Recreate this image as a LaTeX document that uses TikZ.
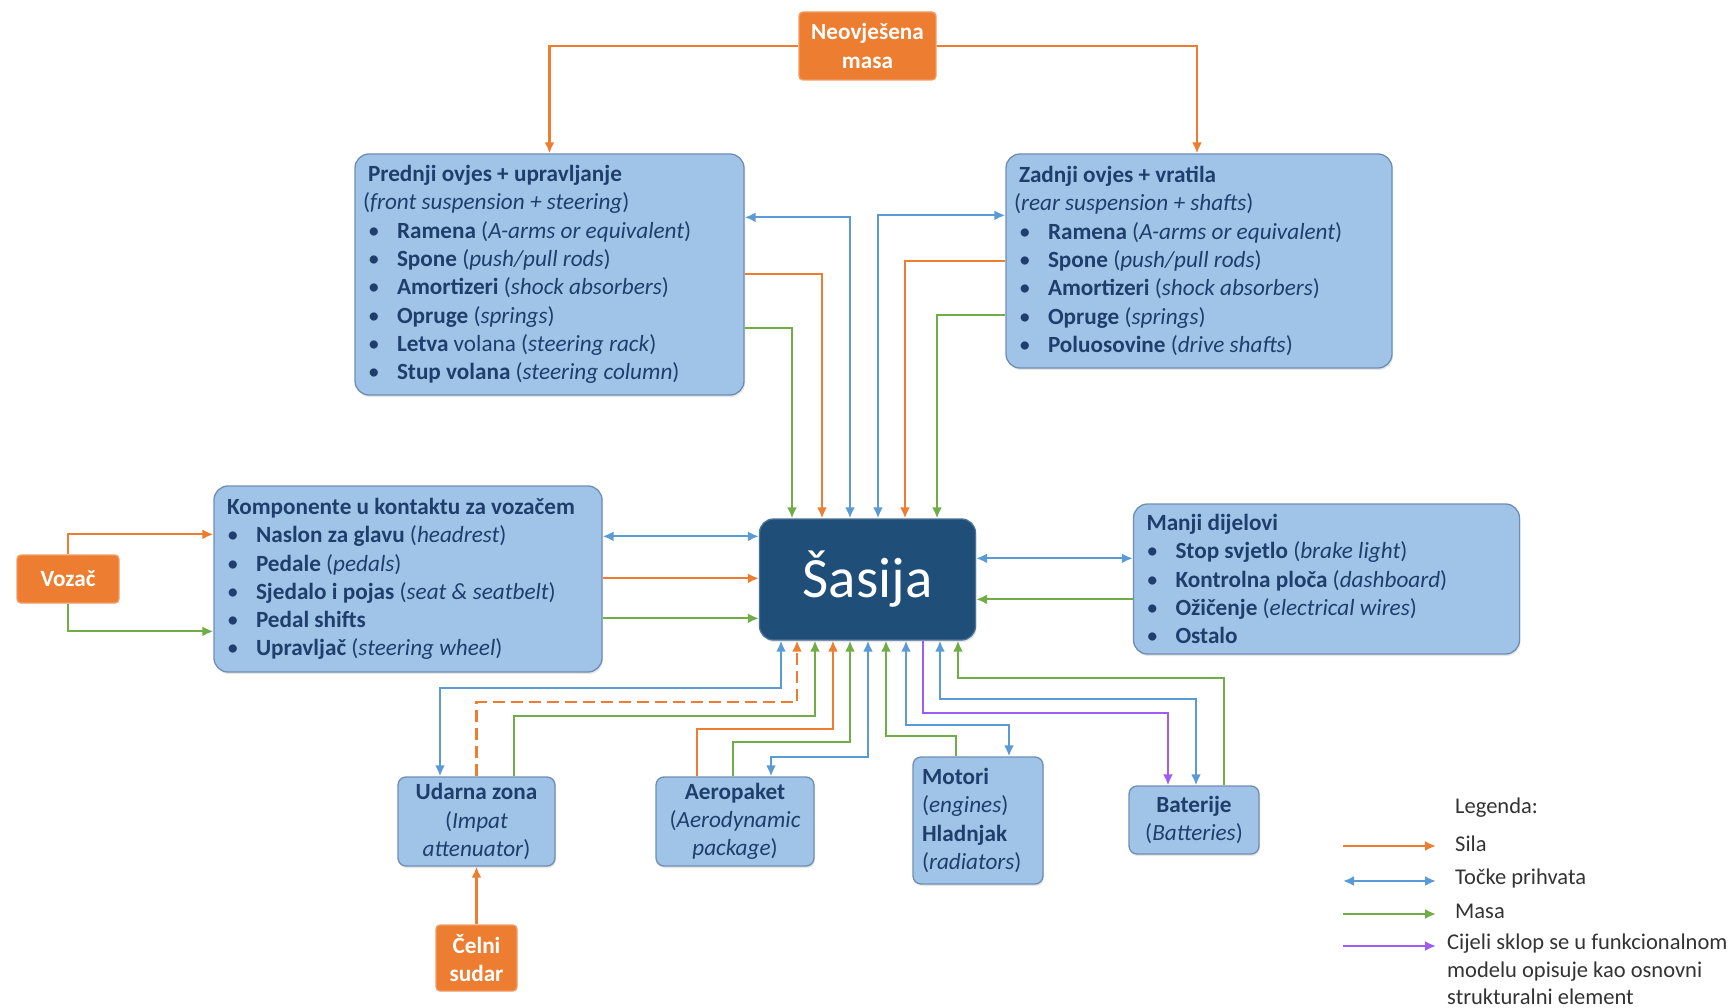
\documentclass[tikz,border=0pt]{standalone}
\usepackage{fontspec}
\setmainfont{Carlito}
\usepackage{tikz}
\usetikzlibrary{positioning}
\usetikzlibrary{arrows.meta}
\usetikzlibrary{shadows}
\definecolor{kutija}{HTML}{A0C4E8}
\definecolor{rub}{HTML}{6F8DB3}
\definecolor{tekst}{HTML}{1F3E6C}
\definecolor{narancasta}{HTML}{ED7D31}
\definecolor{tamna}{HTML}{1F4E79}
\definecolor{silaboja}{HTML}{ED7D31}
\definecolor{tockaboja}{HTML}{5B9BD5}
\definecolor{masaboja}{HTML}{70AD47}
\definecolor{sklopboja}{HTML}{9E5CF2}
\definecolor{legtekst}{HTML}{333333}
\newcommand{\okvirfont}{\fontsize{23.2pt}{28.3pt}\selectfont}
\newcommand{\stavka}[1]{\makebox[29pt][l]{\textbullet}#1}
\tikzset{okvir/.style={rounded corners=14pt,fill=kutija,draw=rub,line width=1.3pt,text=tekst,font=\okvirfont,align=flush left,inner xsep=13pt,inner ysep=0pt,drop shadow={opacity=0.2,shadow xshift=1pt,shadow yshift=-2pt}},
malaokvir/.style={okvir,rounded corners=8pt,align=center,inner xsep=0pt},
naranca/.style={rounded corners=4pt,fill=narancasta,draw=narancasta!75!white,line width=1.3pt,text=white,font=\okvirfont\bfseries,align=center,inner sep=0pt},
legenda/.style={font=\fontsize{22.5pt}{27.5pt}\selectfont,text=legtekst,inner sep=0pt},
sila/.style={draw=silaboja,line width=2.2pt,-{Latex[length=11pt,width=10pt]}},
tocka/.style={draw=tockaboja,line width=2.2pt,{Latex[length=11pt,width=10pt]}-{Latex[length=11pt,width=10pt]}},
masa/.style={draw=masaboja,line width=2.2pt,-{Latex[length=11pt,width=10pt]}},
sklop/.style={draw=sklopboja,line width=2.2pt,-{Latex[length=11pt,width=10pt]}}}
\begin{document}
\begin{tikzpicture}[x=1pt,y=-1pt]
\useasboundingbox (0,0) rectangle (1733,1008);

\node (sasija) at (867.5,579.5) [rounded corners=14pt,fill=tamna,draw=tamna!80!white,line width=1.3pt,text=white,font=\fontsize{57pt}{60pt}\selectfont,minimum width=216pt,minimum height=121pt,inner sep=0pt,drop shadow={opacity=0.2,shadow xshift=1pt,shadow yshift=-2pt}] {Šasija};
\node (neo) at (867.5,46) [naranca,minimum width=137pt,minimum height=68pt] {Neovješena\\masa};
\node (front) at (549.5,274.5) [okvir,text width=363pt,minimum height=241pt] {\textbf{Prednji ovjes + upravljanje}\\\hspace*{-5pt}(\textit{front suspension + steering})\\\stavka{\textbf{Ramena} (\textit{A-arms or equivalent})}\\\stavka{\textbf{Spone} (\textit{push/pull rods})}\\\stavka{\textbf{Amortizeri} (\textit{shock absorbers})}\\\stavka{\textbf{Opruge} (\textit{springs})}\\\stavka{\textbf{Letva} volana (\textit{steering rack})}\\\stavka{\textbf{Stup volana} (\textit{steering column})}};
\node (rear) at (1199,261) [okvir,text width=360pt,minimum height=214pt] {\textbf{Zadnji ovjes + vratila}\\\hspace*{-5pt}(\textit{rear suspension + shafts})\\\stavka{\textbf{Ramena} (\textit{A-arms or equivalent})}\\\stavka{\textbf{Spone} (\textit{push/pull rods})}\\\stavka{\textbf{Amortizeri} (\textit{shock absorbers})}\\\stavka{\textbf{Opruge} (\textit{springs})}\\\stavka{\textbf{Poluosovine} (\textit{drive shafts})}};
\node (komp) at (408,579) [okvir,text width=362pt,minimum height=186pt] {\textbf{Komponente u kontaktu za vozačem}\\\stavka{\textbf{Naslon za glavu} (\textit{headrest})}\\\stavka{\textbf{Pedale} (\textit{pedals})}\\\stavka{\textbf{Sjedalo i pojas} (\textit{seat \& seatbelt})}\\\stavka{\textbf{Pedal shifts}}\\\stavka{\textbf{Upravljač} (\textit{steering wheel})}};
\node (manji) at (1326.5,579) [okvir,text width=360pt,minimum height=150pt] {\textbf{Manji dijelovi}\\\stavka{\textbf{Stop svjetlo} (\textit{brake light})}\\\stavka{\textbf{Kontrolna ploča} (\textit{dashboard})}\\\stavka{\textbf{Ožičenje} (\textit{electrical wires})}\\\stavka{\textbf{Ostalo}}};
\node (vozac) [left of=komp,node distance=340pt,naranca,minimum width=102pt,minimum height=48pt] {Vozač};
\node (udarna) at (476.5,821.5) [malaokvir,minimum width=157pt,minimum height=89pt] {\textbf{Udarna zona}\\(\textit{Impat}\\\textit{attenuator})};
\node (celni) [below of=udarna,node distance=136.5pt,naranca,minimum width=81pt,minimum height=66pt] {Čelni\\sudar};
\node (aero) at (735,821.5) [malaokvir,minimum width=158pt,minimum height=89pt] {\textbf{Aeropaket}\\(\textit{Aerodynamic}\\\textit{package})};
\node (motori) at (978,820.5) [okvir,rounded corners=8pt,inner xsep=9pt,text width=112pt,minimum height=127pt] {\textbf{Motori}\\(\textit{engines})\\\textbf{Hladnjak}\\(\textit{radiators})};
\node (baterije) at (1194,820) [malaokvir,minimum width=130pt,minimum height=68pt] {\textbf{Baterije}\\(\textit{Batteries})};

\node (legenda) at (1455,808) [anchor=west,legenda] {Legenda:};
\node (lsila) at (1455,844) [anchor=west,legenda] {Sila};
\node (ltocka) at (1455,878) [anchor=west,legenda] {Točke prihvata};
\node (lmasa) at (1455,911) [anchor=west,legenda] {Masa};
\node (lsklop) at (1447,934) [anchor=north west,legenda,align=left] {Cijeli sklop se u funkcionalnom\\modelu opisuje kao osnovni\\strukturalni element};

\coordinate (k1) at ([yshift=-51pt]komp.north east);
\coordinate (k2) at ([yshift=-93pt]komp.north east);
\coordinate (k3) at ([yshift=-133pt]komp.north east);
\coordinate (m1) at ([yshift=-55pt]manji.north west);
\coordinate (m2) at ([yshift=-96pt]manji.north west);
\coordinate (v1) at ([yshift=-49pt]komp.north west);
\coordinate (v2) at ([yshift=-146pt]komp.north west);

\draw[sila] (neo.west) -| (front.north);
\draw[sila] (neo.east) -| ([xshift=-2pt]rear.north);
\draw[tocka] ([yshift=-64pt]front.north east) -| ([xshift=-17.5pt]sasija.north);
\draw[sila] ([yshift=-121pt]front.north east) -| ([xshift=-45.5pt]sasija.north);
\draw[masa] ([yshift=-175pt]front.north east) -| ([xshift=-75.5pt]sasija.north);
\draw[tocka] ([yshift=-62pt]rear.north west) -| ([xshift=10.5pt]sasija.north);
\draw[sila] ([yshift=-108pt]rear.north west) -| ([xshift=37.5pt]sasija.north);
\draw[masa] ([yshift=-162pt]rear.north west) -| ([xshift=69.5pt]sasija.north);

\draw[sila] (vozac.north) |- (v1);
\draw[masa] (vozac.south) |- (v2);
\draw[tocka] (k1) -- (k1 -| sasija.west);
\draw[sila] (k2) -- (k2 -| sasija.west);
\draw[masa] (k3) -- (k3 -| sasija.west);
\draw[tocka] (m1) -- (m1 -| sasija.east);
\draw[masa] (m2) -- (m2 -| sasija.east);

\draw[tocka] ([xshift=-86.5pt]sasija.south) -- +(0,47) -| ([xshift=-36.5pt]udarna.north);
\draw[sila,dash pattern=on 12pt off 6pt] (udarna.north) -- +(0,-74) -| ([xshift=-70.5pt]sasija.south);
\draw[masa] ([xshift=37.5pt]udarna.north) -- +(0,-60) -| ([xshift=-52.5pt]sasija.south);
\draw[sila] ([xshift=-38pt]aero.north) -- +(0,-47) -| ([xshift=-34.5pt]sasija.south);
\draw[masa] ([xshift=-2pt]aero.north) -- +(0,-34) -| ([xshift=-17.5pt]sasija.south);
\draw[tocka] ([xshift=0.5pt]sasija.south) -- +(0,116) -| ([xshift=36pt]aero.north);
\draw[masa] ([xshift=-22pt]motori.north) -- +(0,-20) -| ([xshift=18.5pt]sasija.south);
\draw[tocka] ([xshift=38.5pt]sasija.south) -- +(0,84) -| ([xshift=31pt]motori.north);
\draw[sklop] ([xshift=55.5pt]sasija.south) -- +(0,72) -| ([xshift=-26pt]baterije.north);
\draw[tocka] ([xshift=72.5pt]sasija.south) -- +(0,58) -| ([xshift=2pt]baterije.north);
\draw[masa] ([xshift=30pt]baterije.north) -- +(0,-107) -| ([xshift=90.5pt]sasija.south);
\draw[sila] (celni.north) -- (celni.north |- udarna.south);

\draw[sila] ([xshift=-112pt,yshift=-2pt]lsila.west) -- ([xshift=-19pt,yshift=-2pt]lsila.west);
\draw[tocka] ([xshift=-112pt,yshift=-3pt]ltocka.west) -- ([xshift=-19pt,yshift=-3pt]ltocka.west);
\draw[masa] ([xshift=-112pt,yshift=-3pt]lmasa.west) -- ([xshift=-19pt,yshift=-3pt]lmasa.west);
\draw[sklop] ([xshift=-104pt,yshift=-12pt]lsklop.north west) -- ([xshift=-11pt,yshift=-12pt]lsklop.north west);

\end{tikzpicture}
\end{document}
